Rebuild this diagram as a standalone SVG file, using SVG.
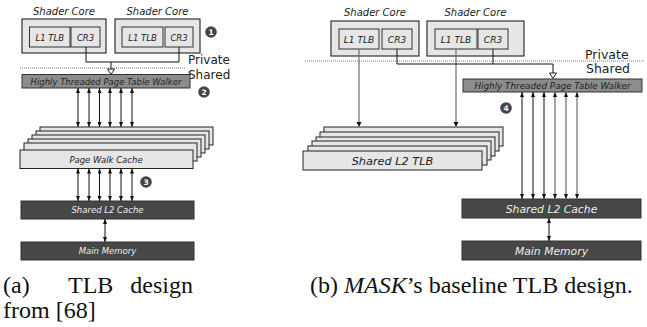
<svg xmlns="http://www.w3.org/2000/svg" width="647" height="327" viewBox="0 0 647 327">
<defs>
<style>
.core{fill:#e6e6e6;stroke:#333;stroke-width:1.2}
.inner{fill:#e6e6e6;stroke:#333;stroke-width:1}
.ptw{fill:#8c8c8c;stroke:#333;stroke-width:1}
.stack{fill:#e6e6e6;stroke:#222;stroke-width:1}
.dark{fill:#474747;stroke:#333;stroke-width:1}
.lbl{font-family:"DejaVu Sans",sans-serif;font-style:italic;fill:#222;text-anchor:middle}
.wl{font-family:"DejaVu Sans",sans-serif;font-style:italic;fill:#eee;text-anchor:middle}
.side{font-family:"DejaVu Sans",sans-serif;fill:#222}
.bc{fill:#454545}
.bt{font-family:"DejaVu Sans",sans-serif;font-weight:bold;font-size:7.5px;fill:#fff;text-anchor:middle}
.ln{stroke:#111;stroke-width:1;fill:none}
.lg{stroke:#777;stroke-width:1.3;fill:none}
.bi{marker-start:url(#ah);marker-end:url(#ah)}
.dot{stroke:#777;stroke-width:1;stroke-dasharray:1 1}
.hol{fill:#fff;stroke:#222;stroke-width:1}
.cap{font-family:"Liberation Serif","Times New Roman",serif;font-size:24px;fill:#111}
</style>
<marker id="ah" viewBox="0 0 10 8" refX="10" refY="4" markerWidth="5" markerHeight="4" markerUnits="userSpaceOnUse" orient="auto-start-reverse">
<path d="M0,0 L10,4 L0,8 z" fill="#111"/>
</marker>
</defs>

<!-- ========== Panel (a) ========== -->
<g id="a-core1">
<text class="lbl" x="64" y="15" font-size="10">Shader Core</text>
<rect class="core" x="22" y="19" width="84" height="34"/>
<rect class="inner" x="29.5" y="27" width="40.5" height="20"/>
<text class="lbl" x="49.75" y="40.5" font-size="8.5">L1 TLB</text>
<rect class="inner" x="71" y="27" width="29" height="20"/>
<text class="lbl" x="85.5" y="40.5" font-size="8.5">CR3</text>
</g>
<g id="a-core2">
<text class="lbl" x="157.5" y="15" font-size="10">Shader Core</text>
<rect class="core" x="115" y="19" width="85" height="34"/>
<rect class="inner" x="122" y="27" width="41" height="20"/>
<text class="lbl" x="142.5" y="40.5" font-size="8.5">L1 TLB</text>
<rect class="inner" x="165" y="27" width="28" height="20"/>
<text class="lbl" x="179" y="40.5" font-size="8.5">CR3</text>
</g>
<g id="a-b1"><circle class="bc" cx="211" cy="32" r="5.8"/><text class="bt" x="211" y="34.8">1</text></g>
<g id="a-boundary">
<line class="dot" x1="20" y1="68" x2="186" y2="68"/>
<text class="side" x="188" y="64" font-size="12">Private</text>
<text class="side" x="188" y="79" font-size="12">Shared</text>
</g>
<g id="a-ptw">
<rect class="ptw" x="22" y="74.5" width="168" height="13.5"/>
<text class="lbl" x="106" y="84.5" font-size="8.5">Highly Threaded Page Table Walker</text>
</g>
<g id="a-b2"><circle class="bc" cx="204" cy="92" r="5.8"/><text class="bt" x="204" y="94.8">2</text></g>
<g id="a-pwc">
<rect class="stack" x="40" y="127" width="173" height="18"/>
<rect class="stack" x="36" y="131" width="173" height="18"/>
<rect class="stack" x="32" y="135" width="173" height="18"/>
<rect class="stack" x="28" y="139" width="173" height="18"/>
<rect class="stack" x="24" y="143" width="173" height="18"/>
<rect class="stack" x="20" y="150" width="173" height="18.5"/>
<text class="lbl" x="106" y="162.5" font-size="8.5">Page Walk Cache</text>
</g>
<g id="a-b3"><circle class="bc" cx="146" cy="182" r="5.8"/><text class="bt" x="146" y="184.8">3</text></g>
<g id="a-l2">
<rect class="dark" x="21" y="201" width="173" height="18"/>
<text class="wl" x="107.5" y="213" font-size="8.5">Shared L2 Cache</text>
</g>
<g id="a-mem">
<rect class="dark" x="21" y="242" width="173" height="18"/>
<text class="wl" x="107.5" y="254" font-size="8.5">Main Memory</text>
</g>

<!-- ========== Panel (b) ========== -->
<g id="b-core1">
<text class="lbl" x="375" y="16" font-size="10">Shader Core</text>
<rect class="core" x="331" y="21" width="88" height="35"/>
<rect class="inner" x="339" y="29" width="40" height="20"/>
<text class="lbl" x="359" y="42.5" font-size="9">L1 TLB</text>
<rect class="inner" x="382" y="29" width="30" height="20"/>
<text class="lbl" x="397" y="42.5" font-size="9">CR3</text>
</g>
<g id="b-core2">
<text class="lbl" x="475.5" y="16" font-size="10">Shader Core</text>
<rect class="core" x="427" y="21" width="97" height="35"/>
<rect class="inner" x="435" y="29" width="42" height="20"/>
<text class="lbl" x="456" y="42.5" font-size="9">L1 TLB</text>
<rect class="inner" x="478" y="29" width="30" height="20"/>
<text class="lbl" x="493" y="42.5" font-size="9">CR3</text>
</g>
<g id="b-boundary">
<line class="dot" x1="305" y1="61" x2="645" y2="61"/>
<text class="side" x="585" y="59" font-size="12.5">Private</text>
<text class="side" x="586" y="72.5" font-size="12.5">Shared</text>
</g>
<g id="b-ptw">
<rect class="ptw" x="463" y="79" width="179" height="13"/>
<text class="lbl" x="552.5" y="88.8" font-size="8.8">Highly Threaded Page Table Walker</text>
</g>
<g id="b-b4"><circle class="bc" cx="506" cy="108" r="5.8"/><text class="bt" x="506" y="110.8">4</text></g>
<g id="b-tlb">
<rect class="stack" x="324" y="127" width="179" height="19"/>
<rect class="stack" x="320" y="132" width="179" height="19"/>
<rect class="stack" x="316" y="137" width="179" height="19"/>
<rect class="stack" x="312" y="141" width="179" height="19"/>
<rect class="stack" x="308" y="146" width="179" height="19"/>
<rect class="stack" x="303" y="151" width="179" height="19"/>
<text class="lbl" x="392.5" y="165" font-size="11.3">Shared L2 TLB</text>
</g>
<g id="b-l2">
<rect class="dark" x="462" y="199" width="179" height="19"/>
<text class="wl" x="551.5" y="212.5" font-size="10.8">Shared L2 Cache</text>
</g>
<g id="b-mem">
<rect class="dark" x="462" y="241" width="179" height="19"/>
<text class="wl" x="551.5" y="254.5" font-size="10.8">Main Memory</text>
</g>

<!-- ========== Connectors ========== -->
<g id="connectors">
<!-- panel (a) -->
<path class="ln" d="M86,47 V62 H179 V47"/>
<line class="ln" x1="111" y1="62" x2="111" y2="69"/>
<polygon class="hol" points="107.5,69 114.5,69 111,74.5"/>
<line class="ln bi" x1="78" y1="88" x2="78" y2="127"/>
<line class="ln bi" x1="89" y1="88" x2="89" y2="127"/>
<line class="ln bi" x1="99.5" y1="88" x2="99.5" y2="127"/>
<line class="ln bi" x1="110" y1="88" x2="110" y2="127"/>
<line class="ln bi" x1="121" y1="88" x2="121" y2="127"/>
<line class="ln bi" x1="132" y1="88" x2="132" y2="127"/>
<line class="ln bi" x1="78" y1="168.5" x2="78" y2="201"/>
<line class="ln bi" x1="89" y1="168.5" x2="89" y2="201"/>
<line class="ln bi" x1="99.5" y1="168.5" x2="99.5" y2="201"/>
<line class="ln bi" x1="110" y1="168.5" x2="110" y2="201"/>
<line class="ln bi" x1="121" y1="168.5" x2="121" y2="201"/>
<line class="ln bi" x1="132" y1="168.5" x2="132" y2="201"/>
<line class="ln bi" x1="105" y1="219" x2="105" y2="242"/>
<!-- panel (b) -->
<line class="lg" x1="359" y1="49" x2="359" y2="122" />
<polygon points="356.5,122 361.5,122 359,127" fill="#111"/>
<line class="lg" x1="456" y1="49" x2="456" y2="122" />
<polygon points="453.5,122 458.5,122 456,127" fill="#111"/>
<path class="ln" d="M397,49 V64 H553 V73"/>
<line class="ln" x1="493" y1="49" x2="493" y2="64"/>
<polygon class="hol" points="549.5,73 556.5,73 553,78.5"/>
<line class="ln bi" x1="522" y1="92" x2="522" y2="199"/>
<line class="ln bi" x1="533" y1="92" x2="533" y2="199"/>
<line class="ln bi" x1="544" y1="92" x2="544" y2="199"/>
<line class="lg bi" x1="555" y1="92" x2="555" y2="199"/>
<line class="lg bi" x1="566" y1="92" x2="566" y2="199"/>
<line class="lg bi" x1="577" y1="92" x2="577" y2="199"/>
<line class="ln bi" x1="549" y1="218" x2="549" y2="241"/>
</g>

<!-- ========== Captions ========== -->
<g id="captions">
<text class="cap" x="3" y="293">(a)</text>
<text class="cap" x="68" y="293">TLB</text>
<text class="cap" x="193" y="293" text-anchor="end">design</text>
<text class="cap" x="3" y="318">from [68]</text>
<text class="cap" x="310" y="293">(b) <tspan font-style="italic">MASK</tspan>’s baseline TLB design.</text>
</g>
</svg>
